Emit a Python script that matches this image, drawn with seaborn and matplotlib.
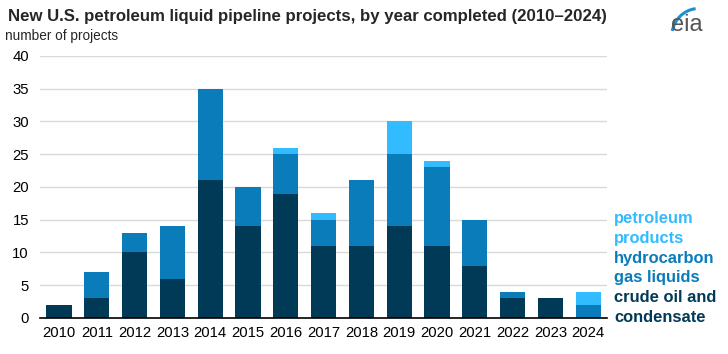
import numpy as np
import pandas as pd
import seaborn as sns
import matplotlib.pyplot as plt
from matplotlib.patches import Arc

years = [str(y) for y in range(2010, 2025)]
crude_oil = [2, 3, 10, 6, 21, 14, 19, 11, 11, 14, 11, 8, 3, 3, 0]
hgl = [0, 4, 3, 8, 14, 6, 6, 4, 10, 11, 12, 7, 1, 0, 2]
petroleum_products = [0, 0, 0, 0, 0, 0, 1, 1, 0, 5, 1, 0, 0, 0, 2]

c_crude = "#003A57"
c_hgl = "#0A7CBA"
c_petro = "#33BBFF"

df = pd.DataFrame({
    "Year": years,
    "crude": crude_oil,
    "hgl": hgl,
    "petro": petroleum_products,
})
# cumulative heights for stacking
df["crude_hgl"] = df["crude"] + df["hgl"]
df["total"] = df["crude_hgl"] + df["petro"]

sns.set_theme(style="white")
plt.rcParams["font.family"] = ["Liberation Sans", "DejaVu Sans"]

fig = plt.figure(figsize=(7.28, 3.54), dpi=100)
ax = fig.add_axes([0.055, 0.1017, 0.779, 0.7403])

for col, color in [("total", c_petro), ("crude_hgl", c_hgl), ("crude", c_crude)]:
    sns.barplot(data=df, x="Year", y=col, color=color, width=0.67,
                saturation=1, linewidth=0, ax=ax)

ax.set_ylim(0, 40)
ax.set_xlim(-0.5, 14.5)
ax.set_yticks(range(0, 41, 5))
ax.yaxis.grid(True, color="#D9D9D9", linewidth=1)
ax.set_axisbelow(True)
ax.set_xlabel("")
ax.set_ylabel("")
for s in ["top", "right", "left"]:
    ax.spines[s].set_visible(False)
ax.spines["bottom"].set_color("black")
ax.spines["bottom"].set_linewidth(1.2)
ax.tick_params(axis="both", length=0, labelsize=10.7, colors="black")
ax.tick_params(axis="y", pad=8)
ax.tick_params(axis="x", pad=6)

fig.text(0.011, 0.952, "New U.S. petroleum liquid pipeline projects, by year completed (2010\u20132024)",
         fontsize=12.1, fontweight="bold", va="center", ha="left")
fig.text(0.007, 0.898, "number of projects", fontsize=9.8, va="center", ha="left")

# legend as coloured text
leg = [("petroleum", c_petro), ("products", c_petro),
       ("hydrocarbon", c_hgl), ("gas liquids", c_hgl),
       ("crude oil and", c_crude), ("condensate", c_crude)]
y0 = 219
for i, (t, c) in enumerate(leg):
    fig.text(614 / 728, 1 - (y0 + i * 19.6) / 354, t, color=c, fontsize=11.9,
             fontweight="bold", va="center", ha="left")

# eia logo
fig.text(687 / 728, 1 - 25 / 354, "eia", fontsize=17, color="#555555",
         ha="center", va="center")
logo = fig.add_axes([665 / 728, 1 - 40 / 354, 45 / 728, 35 / 354])
logo.axis("off")
logo.set_xlim(0, 1)
logo.set_ylim(0, 1)
logo.add_patch(Arc((0.75, 0.1), 1.2, 1.6, theta1=95, theta2=165, color="#1E90D0", linewidth=2.2))

fig.savefig("out.png", dpi=100)
